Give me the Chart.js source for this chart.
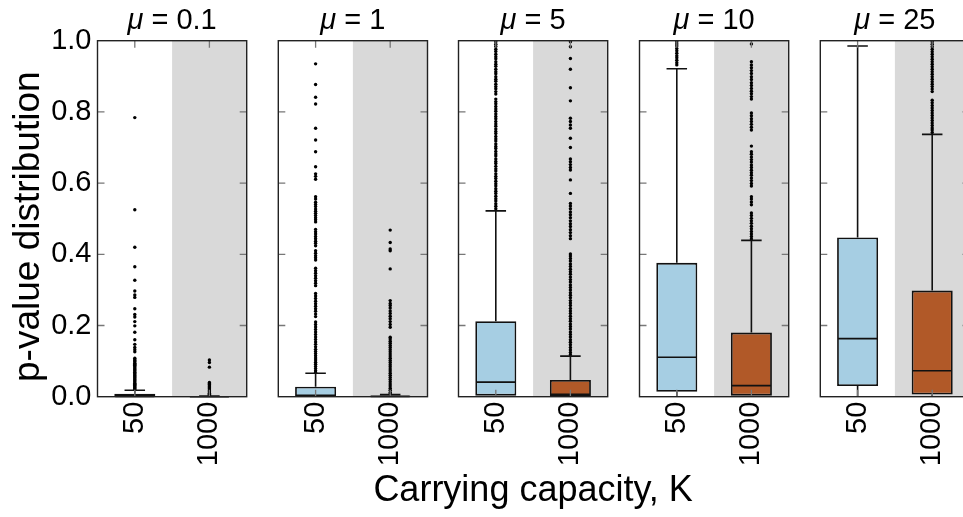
<!DOCTYPE html>
<html>
<head>
<meta charset="utf-8">
<script src="https://cdn.jsdelivr.net/npm/chart.js@4.4.1/dist/chart.umd.min.js"></script>
<style>
  html, body { margin: 0; padding: 0; background: #fff; }
  #wrap { position: relative; width: 963px; height: 517px; overflow: hidden; background: #fff; }
  #wrap canvas { position: absolute; left: 0; top: 0; }
</style>
</head>
<body>
<div id="wrap"></div>
<script>
const categories = ['50', '1000'];
const muLabels = ['0.1', '1', '5', '10', '25'];
const yTicks = [0, 0.2, 0.4, 0.6, 0.8, 1.0];
const xTitle = 'Carrying capacity, K';
const yTitle = 'p-value distribution';

// box stats, one pair per panel: [K=50, K=1000]
const lowWhisker  = [[0, 0], [0, 0], [0, 0], [0, 0], [0, 0]];
const q1          = [[0, 0], [0, 0], [0.003, 0], [0.014, 0.003], [0.030, 0.006]];
const median      = [[0.001, 0], [0.004, 0.001], [0.041, 0.007], [0.111, 0.031], [0.163, 0.073]];
const q3          = [[0.008, 0.001], [0.028, 0.003], [0.212, 0.047], [0.376, 0.180], [0.447, 0.298]];
const highWhisker = [[0.018, 0.002], [0.066, 0.006], [0.522, 0.114], [0.921, 0.439], [0.985, 0.737]];

// outliers
const outliers50 = [
  [0.784, 0.525, 0.42, 0.365, 0.327, 0.297, 0.286, 0.279, 0.247, 0.231, 0.224, 0.211, 0.199, 0.181, 0.16, 0.147,
   0.138, 0.132, 0.126, 0.108, 0.104, 0.101, 0.098, 0.094, 0.091, 0.088, 0.085, 0.081, 0.078, 0.075, 0.072, 0.069,
   0.065, 0.062, 0.059, 0.056, 0.053, 0.05, 0.047, 0.044, 0.041, 0.038, 0.035, 0.032, 0.029, 0.026, 0.023, 0.02],
  [0.935, 0.877, 0.841, 0.822, 0.754, 0.721, 0.688, 0.646, 0.626, 0.619, 0.611, 0.562, 0.555, 0.546, 0.54, 0.534,
   0.527, 0.521, 0.515, 0.509, 0.503, 0.497, 0.491, 0.47, 0.463, 0.457, 0.45, 0.444, 0.437, 0.431, 0.424, 0.41,
   0.403, 0.396, 0.39, 0.384, 0.361, 0.354, 0.347, 0.34, 0.333, 0.326, 0.319, 0.312, 0.29, 0.283, 0.276, 0.268,
   0.261, 0.254, 0.247, 0.24, 0.232, 0.225, 0.21, 0.203, 0.196, 0.189, 0.182, 0.175, 0.168, 0.161, 0.154, 0.147,
   0.14, 0.133, 0.127, 0.121, 0.115, 0.109, 0.103, 0.097, 0.091, 0.085, 0.079, 0.073, 0.068],
  [0.997, 0.99, 0.984, 0.976, 0.97, 0.962, 0.955, 0.949, 0.941, 0.934, 0.928, 0.92, 0.913, 0.907, 0.899, 0.892,
   0.886, 0.878, 0.871, 0.865, 0.857, 0.85, 0.836, 0.829, 0.823, 0.815, 0.808, 0.802, 0.794, 0.787, 0.781, 0.773,
   0.766, 0.76, 0.752, 0.745, 0.739, 0.731, 0.724, 0.718, 0.71, 0.703, 0.697, 0.689, 0.682, 0.676, 0.668, 0.661,
   0.655, 0.647, 0.64, 0.634, 0.626, 0.619, 0.613, 0.605, 0.598, 0.592, 0.584, 0.577, 0.571, 0.563, 0.556, 0.55,
   0.542, 0.535, 0.528],
  [0.997, 0.991, 0.985, 0.978, 0.972, 0.965, 0.958, 0.952, 0.945, 0.938, 0.932],
  []
];
const outliers1000 = [
  [0.103, 0.096, 0.083, 0.04, 0.037, 0.034, 0.031, 0.028, 0.025, 0.022, 0.019, 0.016, 0.013, 0.01, 0.007, 0.004],
  [0.468, 0.433, 0.415, 0.41, 0.359, 0.27, 0.262, 0.256, 0.249, 0.241, 0.234, 0.226, 0.219, 0.211, 0.203, 0.195,
   0.167, 0.162, 0.156, 0.15, 0.144, 0.138, 0.132, 0.126, 0.12, 0.114, 0.108, 0.102, 0.096, 0.09, 0.084, 0.078,
   0.072, 0.066, 0.06, 0.054, 0.048, 0.042, 0.036, 0.03, 0.024, 0.018, 0.012, 0.008],
  [0.997, 0.983, 0.95, 0.92, 0.868, 0.831, 0.782, 0.773, 0.763, 0.754, 0.726, 0.7, 0.668, 0.66, 0.652, 0.644,
   0.637, 0.609, 0.571, 0.543, 0.536, 0.528, 0.519, 0.511, 0.503, 0.494, 0.486, 0.478, 0.469, 0.461, 0.452, 0.444,
   0.401, 0.395, 0.388, 0.381, 0.373, 0.366, 0.358, 0.351, 0.344, 0.336, 0.329, 0.322, 0.314, 0.307, 0.3, 0.292,
   0.285, 0.278, 0.27, 0.263, 0.256, 0.248, 0.241, 0.234, 0.226, 0.219, 0.212, 0.204, 0.197, 0.19, 0.182, 0.175,
   0.168, 0.16, 0.153, 0.146, 0.138, 0.131, 0.124, 0.118],
  [0.991, 0.941, 0.932, 0.924, 0.916, 0.908, 0.899, 0.891, 0.882, 0.874, 0.866, 0.858, 0.851, 0.843, 0.836, 0.797,
   0.789, 0.781, 0.773, 0.765, 0.757, 0.749, 0.704, 0.688, 0.681, 0.673, 0.666, 0.659, 0.651, 0.644, 0.636, 0.629,
   0.622, 0.614, 0.607, 0.599, 0.592, 0.562, 0.555, 0.547, 0.539, 0.516, 0.509, 0.501, 0.494, 0.487, 0.479, 0.472,
   0.464, 0.457, 0.45, 0.443],
  [0.997, 0.99, 0.983, 0.976, 0.969, 0.962, 0.955, 0.948, 0.941, 0.934, 0.927, 0.92, 0.913, 0.906, 0.899, 0.892,
   0.885, 0.878, 0.871, 0.864, 0.857, 0.833, 0.826, 0.818, 0.811, 0.804, 0.797, 0.79, 0.783, 0.776, 0.769, 0.762,
   0.755, 0.749, 0.742]
];

// layout
const FONT = "'Liberation Sans', Arial, Helvetica, sans-serif";
const panelLeft = [97.5, 278.3, 458.5, 639.5, 820.3];
const panelWidth = 149.2;
const plotTop = 40.7, plotBottom = 396.7;
const pageW = 1000, pageH = 517;
const boxColors = ['#a6cee3', '#b15928'];
const shade = '#d9d9d9';

const boxParts = {
  id: 'boxParts',
  beforeDraw(chart) {
    const {ctx, chartArea: a} = chart;
    const mid = (a.left + a.right) / 2;
    ctx.save();
    ctx.fillStyle = shade;
    ctx.fillRect(mid, a.top, a.right - mid, a.bottom - a.top);
    ctx.restore();
  },
  afterDatasetsDraw(chart) {
    const p = chart.options.plugins.boxParts.panel;
    const {ctx, scales: {x, y}} = chart;
    const bars = chart.getDatasetMeta(0).data;
    ctx.save();
    ctx.strokeStyle = '#111';
    ctx.lineWidth = 1.6;
    categories.forEach((c, i) => {
      const cx = x.getPixelForValue(i);
      const half = bars[i].width / 2;
      const cap = half / 2;
      const yHi = y.getPixelForValue(highWhisker[p][i]);
      const yLo = y.getPixelForValue(lowWhisker[p][i]);
      const yMed = y.getPixelForValue(median[p][i]);
      ctx.beginPath();
      ctx.moveTo(cx, y.getPixelForValue(q3[p][i]));
      ctx.lineTo(cx, yHi);
      ctx.moveTo(cx - cap, yHi);
      ctx.lineTo(cx + cap, yHi);
      ctx.moveTo(cx, y.getPixelForValue(q1[p][i]));
      ctx.lineTo(cx, yLo);
      ctx.moveTo(cx - half + 1, yMed);
      ctx.lineTo(cx + half - 1, yMed);
      ctx.stroke();
    });
    ctx.restore();
  },
  afterDraw(chart) {
    const p = chart.options.plugins.boxParts.panel;
    const {ctx, chartArea: a, scales: {x, y}} = chart;
    ctx.save();
    // inward ticks
    ctx.strokeStyle = '#777';
    ctx.lineWidth = 1.3;
    ctx.beginPath();
    yTicks.slice(1, -1).forEach(v => {
      const py = y.getPixelForValue(v);
      ctx.moveTo(a.left, py); ctx.lineTo(a.left + 7, py);
      ctx.moveTo(a.right - 7, py); ctx.lineTo(a.right, py);
    });
    categories.forEach((c, i) => {
      const px = x.getPixelForValue(i);
      ctx.moveTo(px, a.top); ctx.lineTo(px, a.top + 7);
      ctx.moveTo(px, a.bottom - 7); ctx.lineTo(px, a.bottom);
    });
    ctx.stroke();
    // frame
    ctx.strokeStyle = '#222';
    ctx.lineWidth = 1.4;
    ctx.strokeRect(a.left, a.top, a.right - a.left, a.bottom - a.top);
    // panel title: italic mu, then the value
    const muFont = 'italic 29px ' + FONT;
    const numFont = '29px ' + FONT;
    const rest = ' = ' + muLabels[p];
    ctx.fillStyle = '#000';
    ctx.textAlign = 'left';
    ctx.textBaseline = 'alphabetic';
    ctx.font = muFont;
    const wMu = ctx.measureText('\u03bc').width;
    ctx.font = numFont;
    const wRest = ctx.measureText(rest).width;
    const sx = (a.left + a.right) / 2 - (wMu + wRest) / 2;
    ctx.font = muFont;
    ctx.fillText('\u03bc', sx, 28.5);
    ctx.font = numFont;
    ctx.fillText(rest, sx + wMu, 28.5);
    // shared axis titles: x under the middle panel, y left of the first
    ctx.font = '36px ' + FONT;
    ctx.textAlign = 'center';
    ctx.textBaseline = 'middle';
    if (p === 2) {
      ctx.fillText(xTitle, (a.left + a.right) / 2, 491.5);
    }
    if (p === 0) {
      ctx.font = '37px ' + FONT;
      ctx.translate(29, (a.top + a.bottom) / 2 + 8);
      ctx.rotate(-Math.PI / 2);
      ctx.fillText(yTitle, 0, 0);
    }
    ctx.restore();
  }
};

const wrap = document.getElementById('wrap');

muLabels.forEach((mu, p) => {
  const canvas = document.createElement('canvas');
  canvas.width = pageW;
  canvas.height = pageH;
  wrap.appendChild(canvas);

  const points = [];
  outliers50[p].forEach(v => points.push({x: categories[0], y: v}));
  outliers1000[p].forEach(v => points.push({x: categories[1], y: v}));

  new Chart(canvas, {
    type: 'bar',
    data: {
      labels: categories,
      datasets: [{
        type: 'bar',
        data: categories.map((c, i) => [q1[p][i], q3[p][i]]),
        backgroundColor: boxColors,
        borderColor: '#111',
        borderWidth: 1.8,
        borderSkipped: false,
        barPercentage: 0.55,
        categoryPercentage: 1,
        order: 2
      }, {
        type: 'scatter',
        data: points,
        pointRadius: 1.7,
        pointBackgroundColor: '#000',
        pointBorderWidth: 0,
        order: 1
      }]
    },
    options: {
      responsive: false,
      animation: false,
      events: [],
      layout: {
        padding: {
          left: p === 0 ? 0 : panelLeft[p],
          right: pageW - panelLeft[p] - panelWidth,
          top: plotTop,
          bottom: 0
        }
      },
      plugins: {
        legend: {display: false},
        tooltip: {enabled: false},
        boxParts: {panel: p}
      },
      scales: {
        x: {
          type: 'category',
          offset: true,
          grid: {display: false, drawTicks: false},
          border: {display: false},
          ticks: {
            minRotation: 90, maxRotation: 90, padding: 5,
            color: '#000', font: {family: FONT, size: 29}
          },
          afterFit(s) { s.height = pageH - plotBottom; s.paddingLeft = 0; s.paddingRight = 0; }
        },
        y: {
          min: 0, max: 1,
          grid: {display: false, drawTicks: false},
          border: {display: false},
          ticks: {
            display: p === 0, stepSize: 0.2, padding: 6,
            callback: v => v.toFixed(1),
            color: '#000', font: {family: FONT, size: 29}
          },
          afterFit(s) { s.width = p === 0 ? panelLeft[0] : 0; s.paddingTop = 0; s.paddingBottom = 0; }
        }
      }
    },
    plugins: [boxParts]
  });
});
</script>
</body>
</html>
